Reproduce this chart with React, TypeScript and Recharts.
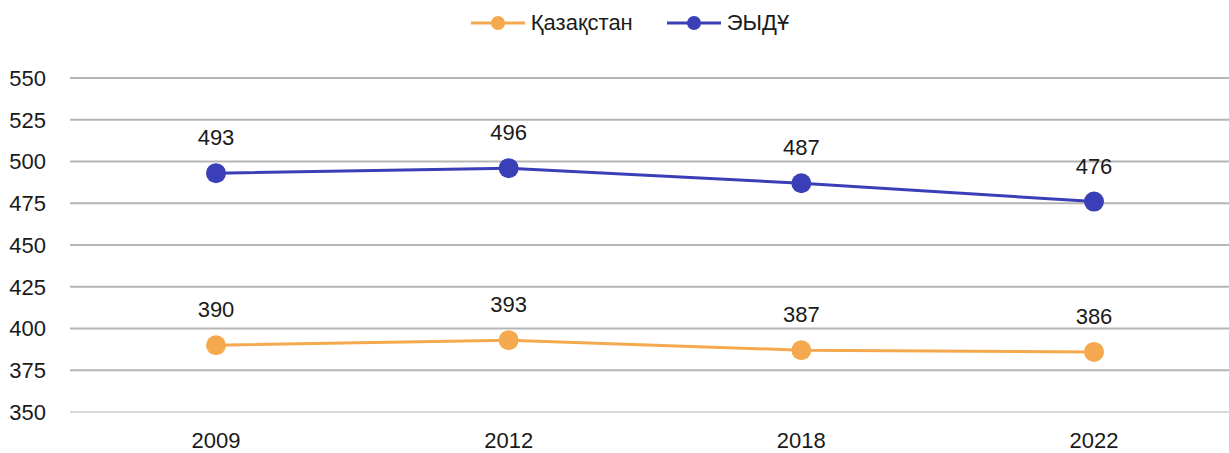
import React from 'react';
import { LineChart, Line, XAxis, YAxis, CartesianGrid, Legend, LabelList } from 'recharts';

const years = ['2009', '2012', '2018', '2022'];
const kazakhstan = [390, 393, 387, 386];
const oecd = [493, 496, 487, 476];
const yTicks = [350, 375, 400, 425, 450, 475, 500, 525, 550];

const KZ_COLOR = '#F5A94E';
const OECD_COLOR = '#3A3FB7';
const FONT = '"Liberation Sans", Arial, sans-serif';

const data = years.map((year, i) => ({
  year,
  kz: kazakhstan[i],
  oecd: oecd[i],
}));

const legendItems = [
  { name: 'Қазақстан', color: KZ_COLOR },
  { name: 'ЭЫДҰ', color: OECD_COLOR },
];

function LegendContent() {
  return (
    <div style={{ display: 'flex', justifyContent: 'center', gap: 34, fontFamily: FONT, fontSize: 22, color: '#1a1a1a', paddingLeft: 20 }}>
      {legendItems.map((item) => (
        <div key={item.name} style={{ display: 'flex', alignItems: 'center' }}>
          <svg width={54} height={20} style={{ marginRight: 6 }}>
            <line x1={0} y1={10} x2={54} y2={10} stroke={item.color} strokeWidth={3} />
            <circle cx={27} cy={10} r={7} fill={item.color} />
          </svg>
          <span>{item.name}</span>
        </div>
      ))}
    </div>
  );
}

export default function App() {
  return (
    <div style={{ position: 'absolute', left: 0, top: 0, width: 1229, height: 453, overflow: 'hidden', background: '#fff' }}>
      <LineChart width={1240} height={453} data={data} margin={{ top: 52, right: 0, left: 0, bottom: 11 }}>
        <CartesianGrid horizontal vertical={false} stroke="#b5b5b5" strokeWidth={2} />
        <Legend verticalAlign="top" align="center" content={<LegendContent />} wrapperStyle={{ top: 10 }} />
        <XAxis
          dataKey="year"
          padding={{ left: 146, right: 146 }}
          axisLine={{ stroke: '#d9d9d9', strokeWidth: 2 }}
          tickLine={false}
          tickSize={0}
          tickMargin={20}
          tick={{ fill: '#1a1a1a', fontSize: 22, fontFamily: FONT }}
        />
        <YAxis
          domain={[350, 550]}
          ticks={yTicks}
          width={70}
          axisLine={false}
          tickLine={false}
          tickSize={0}
          tickMargin={24}
          tick={{ fill: '#1a1a1a', fontSize: 22, fontFamily: FONT }}
        />
        <Line
          dataKey="kz"
          name="Қазақстан"
          stroke={KZ_COLOR}
          strokeWidth={3}
          dot={{ r: 10, fill: KZ_COLOR, stroke: KZ_COLOR, strokeWidth: 0 }}
          isAnimationActive={false}
        >
          <LabelList dataKey="kz" position="top" offset={28} fill="#1a1a1a" fontSize={22} fontFamily={FONT} />
        </Line>
        <Line
          dataKey="oecd"
          name="ЭЫДҰ"
          stroke={OECD_COLOR}
          strokeWidth={3}
          dot={{ r: 10, fill: OECD_COLOR, stroke: OECD_COLOR, strokeWidth: 0 }}
          isAnimationActive={false}
        >
          <LabelList dataKey="oecd" position="top" offset={28} fill="#1a1a1a" fontSize={22} fontFamily={FONT} />
        </Line>
      </LineChart>
    </div>
  );
}
